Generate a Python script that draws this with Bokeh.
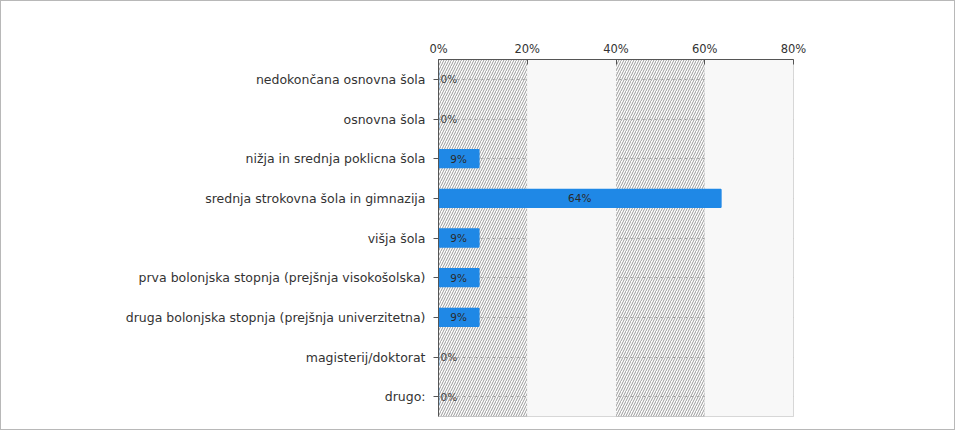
from bokeh.plotting import figure
from bokeh.models import (ColumnDataSource, FactorRange, Range1d, LinearAxis, FixedTicker,
                          PrintfTickFormatter, Label, CategoricalAxis)
from bokeh.embed import file_html
from bokeh.resources import INLINE
from bokeh.core.properties import value

categories = [
    "nedokončana osnovna šola",
    "osnovna šola",
    "nižja in srednja poklicna šola",
    "srednja strokovna šola in gimnazija",
    "višja šola",
    "prva bolonjska stopnja (prejšnja visokošolska)",
    "druga bolonjska stopnja (prejšnja univerzitetna)",
    "magisterij/doktorat",
    "drugo:",
]
values = [0.0, 0.0, 9.09, 63.64, 9.09, 9.09, 9.09, 0.0, 0.0]
x_ticks = [0, 20, 40, 60, 80]
n_text = "n = 11"

BLUE = "#1f88e6"
FONT = "DejaVu Sans"

factors = list(reversed(categories))
p = figure(width=955, height=430, output_backend="svg", toolbar_location=None,
           y_range=FactorRange(factors=factors, range_padding=0),
           x_range=Range1d(0, 80), x_axis_location=None, y_axis_location=None,
           min_border_left=437, min_border_right=163, min_border_top=58, min_border_bottom=15)
p.styles = {"border": "1px solid #b8b8b8"}
p.outline_line_color = "#cccccc"
p.background_fill_color = "white"
p.xgrid.visible = False
p.ygrid.grid_line_color = "#a8a8a8"
p.ygrid.grid_line_dash = "3 3"

# bands
hatched = [(x_ticks[0], x_ticks[1]), (x_ticks[2], x_ticks[3])]
plain = [(x_ticks[1], x_ticks[2]), (x_ticks[3], x_ticks[4])]
p.quad(left=[a for a, b in plain], right=[b for a, b in plain], bottom=0, top=len(categories),
       fill_color="#f8f8f8", line_color=None)
p.quad(left=[a for a, b in hatched], right=[b for a, b in hatched], bottom=0, top=len(categories),
       fill_color=None, line_color="#bbbbbb", line_dash="1 1",
       hatch_pattern="/", hatch_color="#999999", hatch_scale=5, hatch_weight=1, level="underlay")

src = ColumnDataSource(dict(cat=categories, val=values))
p.hbar(y="cat", right="val", left=0, height=0.45, source=src,
       fill_color=BLUE, line_color=BLUE, line_width=1.5)

nz = ColumnDataSource(dict(cat=[c for c, v in zip(categories, values) if v > 0],
                           mid=[v / 2 for v in values if v > 0],
                           lab=[f"{round(v)}%" for v in values if v > 0]))
zz = ColumnDataSource(dict(cat=[c for c, v in zip(categories, values) if v == 0],
                           x=[v for v in values if v == 0],
                           lab=[f"{round(v)}%" for v in values if v == 0]))
p.text(x="mid", y="cat", text="lab", source=nz, text_align="center", text_baseline="middle",
       text_font=value(FONT), text_font_size="10.5px", text_color="#2a2a2a")
p.text(x="x", y="cat", text="lab", source=zz, text_align="left", text_baseline="middle",
       x_offset=2, text_font=value(FONT), text_font_size="10.5px", text_color="#444444")

xa = LinearAxis(ticker=FixedTicker(ticks=x_ticks), formatter=PrintfTickFormatter(format="%d%%"))
xa.major_tick_in = 5
xa.major_tick_out = 0
xa.minor_tick_line_color = None
xa.axis_line_color = "#555555"
xa.major_tick_line_color = "#555555"
xa.major_label_text_font = FONT
xa.major_label_text_font_size = "11.5px"
xa.major_label_text_color = "#333333"
xa.major_label_standoff = 4
p.add_layout(xa, "above")

ya = CategoricalAxis()
ya.major_tick_in = 0
ya.major_tick_out = 5
ya.axis_line_color = "#555555"
ya.major_tick_line_color = "#555555"
ya.major_label_text_font = FONT
ya.major_label_text_font_size = "12.5px"
ya.major_label_text_color = "#333333"
ya.major_label_standoff = 8
p.add_layout(ya, "left")

p.add_layout(Label(x=88.2, y=0.08, text=n_text, text_font=FONT, text_font_size="11px",
                   text_color="#333333", text_baseline="middle", text_align="left"))

open("out.html", "w").write(file_html(p, INLINE))
